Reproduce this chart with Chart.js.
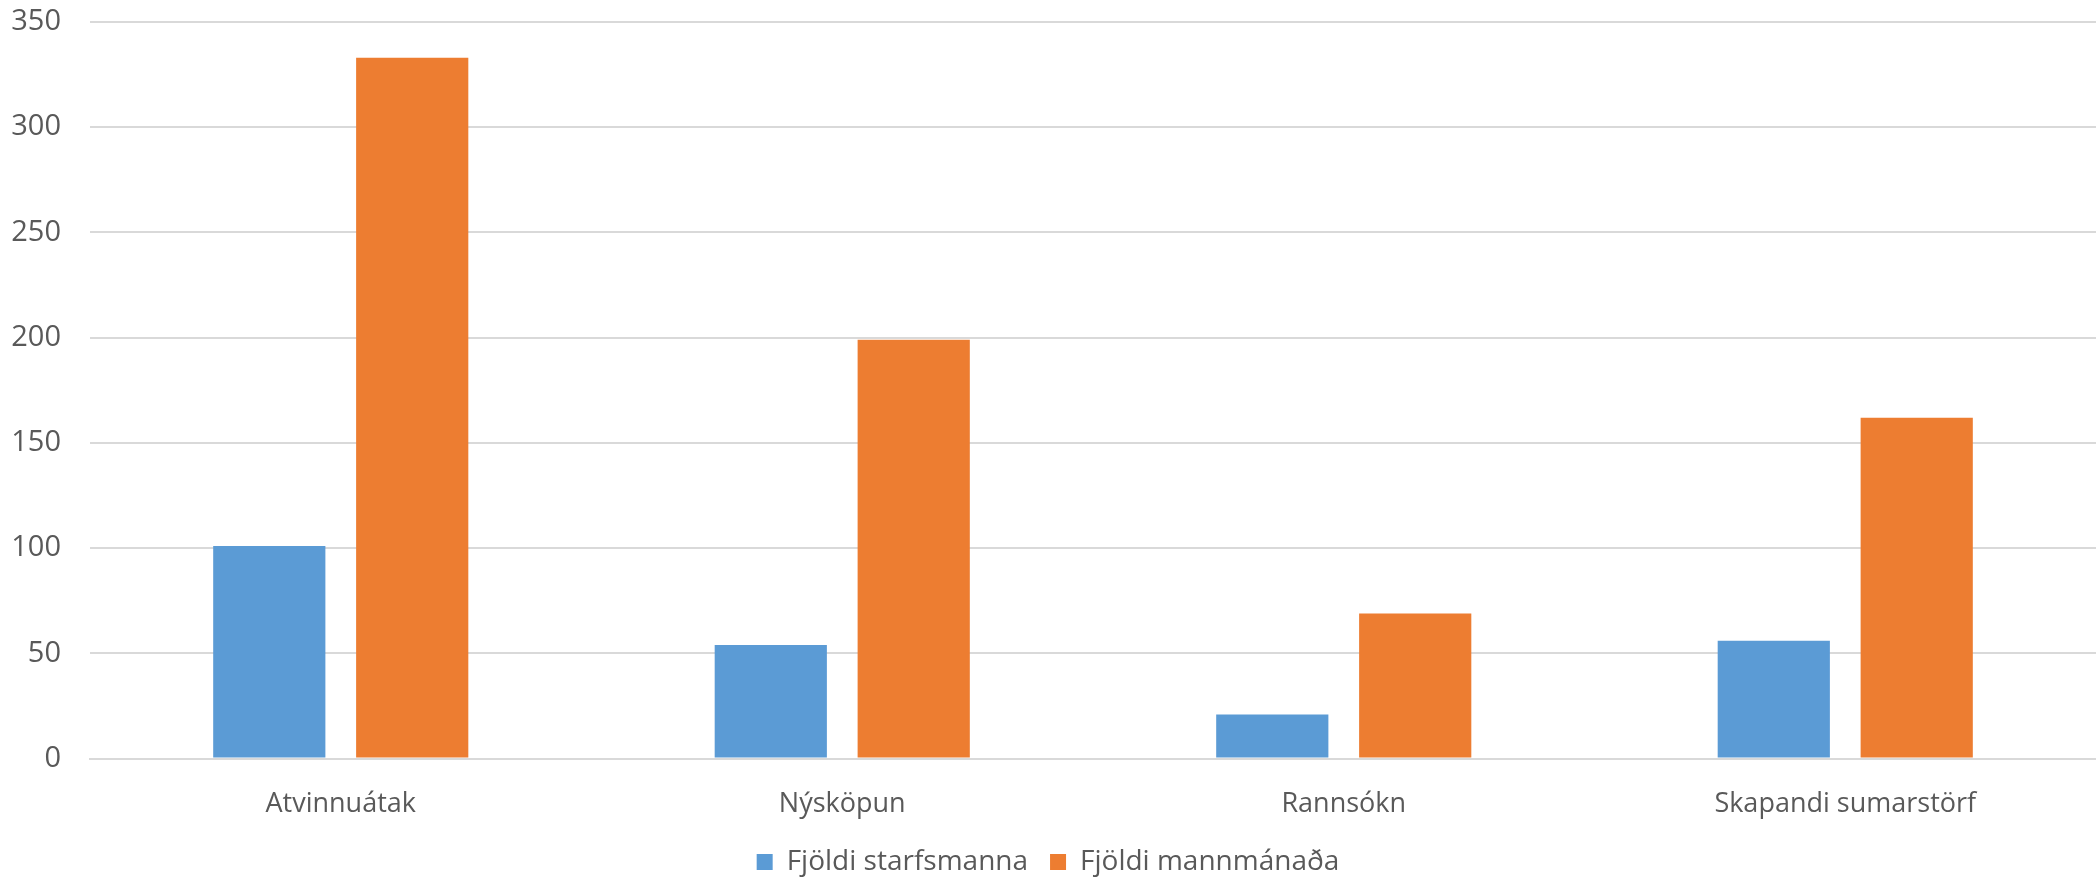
<!DOCTYPE html>
<html>
<head>
<meta charset="utf-8">
<script src="https://cdn.jsdelivr.net/npm/chart.js@4/dist/chart.umd.min.js"></script>
<style>
  html, body { margin: 0; padding: 0; background: #fff; }
  #wrap { width: 2096px; height: 878px; }
</style>
</head>
<body>
<div id="wrap"><canvas id="chart"></canvas></div>
<script>
// data
const categories = ['Atvinnuátak', 'Nýsköpun', 'Rannsókn', 'Skapandi sumarstörf'];
const starfsmenn = [101, 54, 21, 56];
const mannmanudir = [333, 199, 69, 162];
const yTicks = [0, 50, 100, 150, 200, 250, 300, 350];

const grey = '#595959';
const gridColor = '#d9d9d9';

Chart.defaults.font.family = '"Open Sans", sans-serif';
Chart.defaults.font.size = 27;
Chart.defaults.color = grey;

const ctx = document.getElementById('chart').getContext('2d');
const chart = new Chart(ctx, {
  type: 'bar',
  data: {
    labels: categories,
    datasets: [
      {
        label: 'Fjöldi starfsmanna',
        data: starfsmenn,
        backgroundColor: '#5b9bd5',
        categoryPercentage: 0.57,
        barPercentage: 0.785,
      },
      {
        label: 'Fjöldi mannmánaða',
        data: mannmanudir,
        backgroundColor: '#ed7d31',
        categoryPercentage: 0.57,
        barPercentage: 0.785,
      },
    ],
  },
  options: {
    animation: false,
    responsive: true,
    maintainAspectRatio: false,
    layout: { padding: { top: 22, right: 0, left: 0, bottom: -8 } },
    scales: {
      x: {
        grid: { display: false, drawTicks: false },
        border: { color: gridColor, width: 2 },
        ticks: { padding: 30, color: grey },
        afterFit: (scale) => {
          scale.height = scale.height - 25;
          scale.paddingLeft = 0;
          scale.paddingRight = 0;
        },
      },
      y: {
        min: 0,
        max: 350,
        afterBuildTicks: (axis) => {
          axis.ticks = yTicks.map((v) => ({ value: v }));
        },
        grid: { color: gridColor, lineWidth: 2, drawTicks: false },
        border: { display: false },
        ticks: { padding: 29, color: grey, font: { size: 29 } },
        afterFit: (scale) => {
          scale.width = 90;
          scale.paddingTop = 0;
          scale.paddingBottom = 0;
        },
      },
    },
    plugins: {
      legend: {
        position: 'bottom',
        labels: {
          boxWidth: 16,
          boxHeight: 16,
          padding: 22,
          color: grey,
          font: { size: 28 },
        },
      },
      tooltip: { enabled: false },
    },
  },
});
</script>
</body>
</html>
